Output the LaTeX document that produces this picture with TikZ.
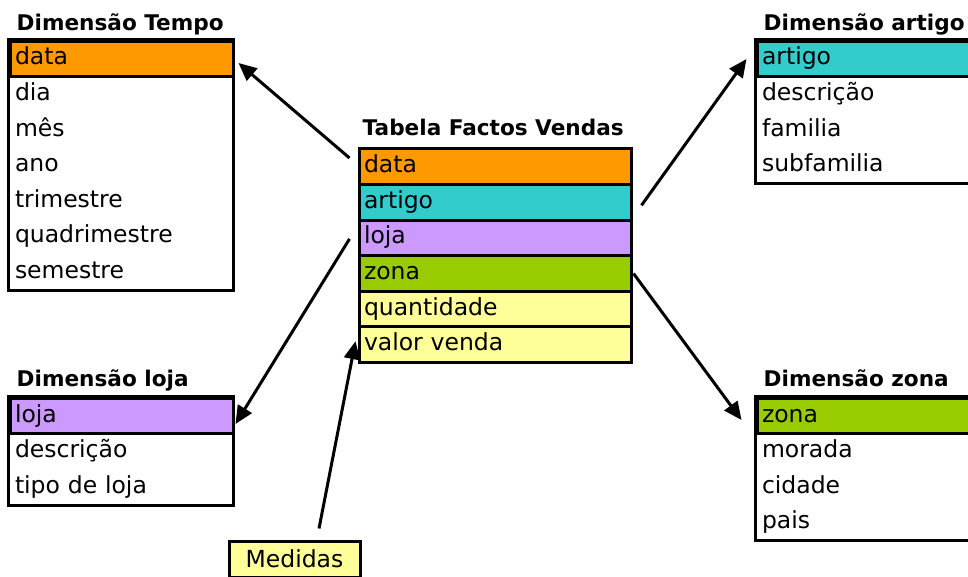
\documentclass[tikz,border=0pt]{standalone}
\usepackage{fontspec}
\setmainfont{DejaVu Sans}
\usepackage{xcolor}
\usepackage{tikz}
\usetikzlibrary{positioning}
\usetikzlibrary{arrows.meta}
\definecolor{keyorange}{HTML}{FF9900}
\definecolor{keyteal}{HTML}{33CCCC}
\definecolor{keylilac}{HTML}{CC99FF}
\definecolor{keygreen}{HTML}{99CC00}
\definecolor{measyellow}{HTML}{FFFF99}
\tikzstyle{row} = [rectangle, minimum height=35.6pt, text width=213pt, inner xsep=5pt, inner ysep=0pt, align=left, text height=17.5pt, text depth=5.5pt]
\tikzstyle{keyrow} = [row, draw=black, line width=3pt]
\tikzstyle{factrow} = [row, draw=black, line width=3pt, text width=262pt]
\tikzstyle{tabletitle} = [font=\fontsize{21.6}{26}\selectfont\bfseries, inner sep=0pt, anchor=base west]
\tikzstyle{frame} = [draw=black, line width=3pt]
\tikzstyle{arrow} = [line width=3pt, -{Triangle[length=18pt,width=16pt]}]

\begin{document}
\begin{tikzpicture}[x=1pt, y=1pt, font=\fontsize{23.5}{27}\selectfont,
                    node distance=35.6pt]
    \useasboundingbox (0,0) rectangle (968,-577);

    % Dimensao Tempo
    \node (tData) [keyrow, fill=keyorange] at (121.5,-59) {data};
    \node (tDia) [row, below of=tData] {dia};
    \node (tMes) [row, below of=tDia] {mês};
    \node (tAno) [row, below of=tMes] {ano};
    \node (tTri) [row, below of=tAno] {trimestre};
    \node (tQuad) [row, below of=tTri] {quadrimestre};
    \node (tSem) [row, below of=tQuad] {semestre};
    \draw [frame] (tData.north west) rectangle (tSem.south east);
    \node (tTitle) [tabletitle] at ([shift={(8,9)}]tData.north west) {Dimensão Tempo};

    % Tabela Factos Vendas
    \node (fData) [factrow, fill=keyorange] at (495,-166.7) {data};
    \node (fArt) [factrow, fill=keyteal, below of=fData] {artigo};
    \node (fLoja) [factrow, fill=keylilac, below of=fArt] {loja};
    \node (fZona) [factrow, fill=keygreen, below of=fLoja] {zona};
    \node (fQuant) [factrow, fill=measyellow, below of=fZona] {quantidade};
    \node (fValor) [factrow, fill=measyellow, below of=fQuant] {valor venda};
    \node (fTitle) [tabletitle] at ([shift={(5,12)}]fData.north west) {Tabela Factos Vendas};

    % Dimensao artigo
    \node (aArt) [keyrow, fill=keyteal] at (868.5,-59) {artigo};
    \node (aDesc) [row, below of=aArt] {descrição};
    \node (aFam) [row, below of=aDesc] {familia};
    \node (aSub) [row, below of=aFam] {subfamilia};
    \draw [frame] (aArt.north west) rectangle (aSub.south east);
    \node (aTitle) [tabletitle] at ([shift={(8,9)}]aArt.north west) {Dimensão artigo};

    % Dimensao loja
    \node (lLoja) [keyrow, fill=keylilac] at (121.5,-416) {loja};
    \node (lDesc) [row, below of=lLoja] {descrição};
    \node (lTipo) [row, below of=lDesc] {tipo de loja};
    \draw [frame] (lLoja.north west) rectangle (lTipo.south east);
    \node (lTitle) [tabletitle] at ([shift={(8,10)}]lLoja.north west) {Dimensão loja};

    % Dimensao zona
    \node (zZona) [keyrow, fill=keygreen] at (868.5,-416) {zona};
    \node (zMor) [row, below of=zZona] {morada};
    \node (zCid) [row, below of=zMor] {cidade};
    \node (zPais) [row, below of=zCid] {pais};
    \draw [frame] (zZona.north west) rectangle (zPais.south east);
    \node (zTitle) [tabletitle] at ([shift={(8,10)}]zZona.north west) {Dimensão zona};

    % Medidas
    \node (medidas) [draw=black, line width=3pt, fill=measyellow, minimum width=131pt, minimum height=36pt, inner sep=0pt] at (294.5,-559) {Medidas};

    \draw [arrow] ([shift={(-8,8.7)}]fData.west) -- ([shift={(4,-4)}]tData.east);
    \draw [arrow] ([shift={(9,-3)}]fArt.east) -- ([shift={(-9,0)}]aArt.west);
    \draw [arrow] ([shift={(-8,-1)}]fLoja.west) -- ([shift={(1,-8)}]lLoja.east);
    \draw [arrow] ([shift={(1,0)}]fZona.east) -- ([shift={(-14,-4)}]zZona.west);
    \draw [arrow] ([shift={(24.5,11)}]medidas.north) -- ([shift={(-2,3.5)}]fValor.west);
\end{tikzpicture}
\end{document}
